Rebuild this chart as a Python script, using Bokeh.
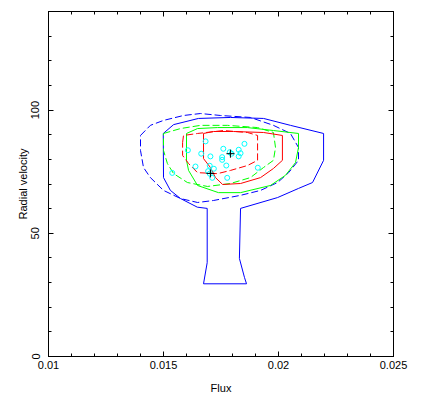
from bokeh.plotting import figure
from bokeh.models import Range1d, LinearAxis, SingleIntervalTicker, CustomJSTickFormatter
from bokeh.embed import file_html
from bokeh.resources import INLINE

# ---- data ----
blue_solid_x = [0.01499, 0.01544, 0.01652, 0.01791, 0.01935, 0.02052, 0.02196, 0.02196, 0.02148,
                0.02087, 0.01996, 0.01835, 0.01830, 0.01852, 0.01861, 0.01674, 0.01690, 0.01690,
                0.01647, 0.01574, 0.01530, 0.01500]
blue_solid_y = [90.5, 94.1, 96.6, 97.0, 96.6, 93.8, 90.5, 79.6, 70.6,
                68.2, 64.5, 60.1, 39.8, 32.1, 29.5, 29.5, 38.1, 60.1,
                60.6, 64.1, 67.4, 72.6]

blue_dash_x = [0.01400, 0.01443, 0.01500, 0.01587, 0.01661, 0.01748, 0.01878, 0.01978, 0.02052,
               0.02087, 0.02087, 0.02044, 0.01996, 0.01922, 0.01835, 0.01717, 0.01648, 0.01574,
               0.01500, 0.01443, 0.01413, 0.01400]
blue_dash_y = [89.7, 93.8, 95.8, 97.8, 98.6, 97.8, 97.0, 93.8, 90.5,
               84.8, 79.6, 74.6, 70.6, 67.4, 65.4, 63.3, 62.5, 64.1,
               67.4, 72.6, 76.7, 83.6]

green_solid_x = [0.01600, 0.01648, 0.01735, 0.01865, 0.01978, 0.02087, 0.02087, 0.02074,
                 0.02030, 0.01965, 0.01835, 0.01739, 0.01648, 0.01609, 0.01600]
green_solid_y = [90.5, 92.5, 92.9, 92.9, 91.7, 90.5, 84.8, 78.7,
                 73.5, 69.4, 66.5, 66.5, 69.4, 75.5, 79.6]

green_dash_x = [0.01500, 0.01574, 0.01661, 0.01778, 0.01909, 0.01978, 0.01987, 0.01978,
                0.01935, 0.01878, 0.01791, 0.01691, 0.01604, 0.01544, 0.01517, 0.01500]
green_dash_y = [90.5, 92.5, 93.8, 93.8, 92.9, 90.9, 84.8, 79.6,
                76.7, 72.6, 70.2, 69.0, 70.6, 74.2, 78.3, 83.6]

red_solid_x = [0.01674, 0.01717, 0.01804, 0.01935, 0.02017, 0.02017, 0.01978, 0.01922,
               0.01835, 0.01757, 0.01726, 0.01704, 0.01674]
red_solid_y = [90.5, 91.3, 91.3, 90.9, 89.7, 79.6, 76.3, 72.6,
               70.2, 69.8, 72.6, 76.7, 80.3]

red_dash_x = [0.01583, 0.01587, 0.01648, 0.01761, 0.01865, 0.01909, 0.01909, 0.01865,
              0.01791, 0.01735, 0.01648, 0.01609, 0.01583]
red_dash_y = [86.8, 89.7, 90.5, 91.7, 90.9, 89.7, 79.6, 77.5,
              75.5, 74.2, 74.6, 78.3, 81.6]

points_x = [0.01683, 0.01606, 0.01664, 0.01704, 0.01760, 0.01788, 0.01755, 0.01755, 0.01796,
            0.01827, 0.01827, 0.01835, 0.01852, 0.01639, 0.01701, 0.01719, 0.01694, 0.01701,
            0.01712, 0.01773, 0.01777, 0.01910, 0.01538]
points_y = [87.3, 83.7, 82.3, 81.2, 84.3, 82.9, 80.9, 79.8, 82.3,
            83.9, 81.2, 82.5, 86.3, 77.1, 77.4, 76.2, 75.2, 74.2,
            72.5, 77.5, 72.5, 76.6, 74.5]

cross_x = [0.01791, 0.01704]
cross_y = [82.3, 74.3]

x_ticks_interval = 0.005
y_ticks_interval = 50

FONT = "Liberation Sans"

p = figure(width=427, height=396,
           x_range=Range1d(0.01, 0.025), y_range=Range1d(0, 140),
           output_backend="svg", toolbar_location=None,
           min_border_left=48, min_border_right=34, min_border_top=11, min_border_bottom=40)
p.background_fill_color = "white"
p.border_fill_color = "white"
p.outline_line_color = "black"
for g in p.grid:
    g.visible = False


def style_axis(ax, show_labels=True):
    ax.axis_line_color = "black"
    ax.major_tick_line_color = "black"
    ax.minor_tick_line_color = "black"
    ax.major_tick_in = 5
    ax.major_tick_out = 0
    ax.minor_tick_in = 3
    ax.minor_tick_out = 0
    ax.major_label_text_font = FONT
    ax.axis_label_text_font = FONT
    ax.axis_label_text_font_style = "normal"
    ax.axis_label_text_color = "black"
    ax.axis_label_text_font_size = "11px"
    if show_labels:
        ax.major_label_text_font_size = "11px"
        ax.major_label_text_color = "black"
    else:
        ax.major_label_text_font_size = "1px"
        ax.major_label_text_color = None
        ax.major_label_standoff = 0


xt = SingleIntervalTicker(interval=x_ticks_interval, num_minor_ticks=5)
yt = SingleIntervalTicker(interval=y_ticks_interval, num_minor_ticks=5)
fmt = CustomJSTickFormatter(code="return parseFloat(tick.toFixed(4)).toString();")

xa = p.xaxis[0]
xa.ticker = xt
xa.formatter = fmt
style_axis(xa)
xa.major_label_standoff = 4
xa.axis_label = "Flux"
xa.axis_label_standoff = 10

ya = p.yaxis[0]
ya.ticker = yt
style_axis(ya)
ya.major_label_orientation = "vertical"
ya.major_label_standoff = 9
ya.axis_label = "Radial velocity"
ya.axis_label_standoff = 0

top = LinearAxis(ticker=SingleIntervalTicker(interval=x_ticks_interval, num_minor_ticks=5))
style_axis(top, show_labels=False)
p.add_layout(top, "above")
right = LinearAxis(ticker=SingleIntervalTicker(interval=y_ticks_interval, num_minor_ticks=5))
style_axis(right, show_labels=False)
p.add_layout(right, "right")


def closed(a):
    return list(a) + [a[0]]


DASH = "7 3"
p.line(closed(blue_solid_x), closed(blue_solid_y), line_color="#0000FF", line_width=1)
p.line(closed(blue_dash_x), closed(blue_dash_y), line_color="#0000FF", line_width=1, line_dash=DASH)
p.line(closed(green_solid_x), closed(green_solid_y), line_color="#00FF00", line_width=1)
p.line(closed(green_dash_x), closed(green_dash_y), line_color="#00FF00", line_width=1, line_dash=DASH)
p.line(closed(red_solid_x), closed(red_solid_y), line_color="#FF0000", line_width=1)
p.line(closed(red_dash_x), closed(red_dash_y), line_color="#FF0000", line_width=1, line_dash=DASH)

p.scatter(points_x, points_y, marker="circle", size=5, fill_color=None,
          line_color="#00FFFF", line_width=1)
p.scatter(cross_x, cross_y, marker="cross", size=8, line_color="black", line_width=1)

open("out.html", "w").write(file_html(p, INLINE))
